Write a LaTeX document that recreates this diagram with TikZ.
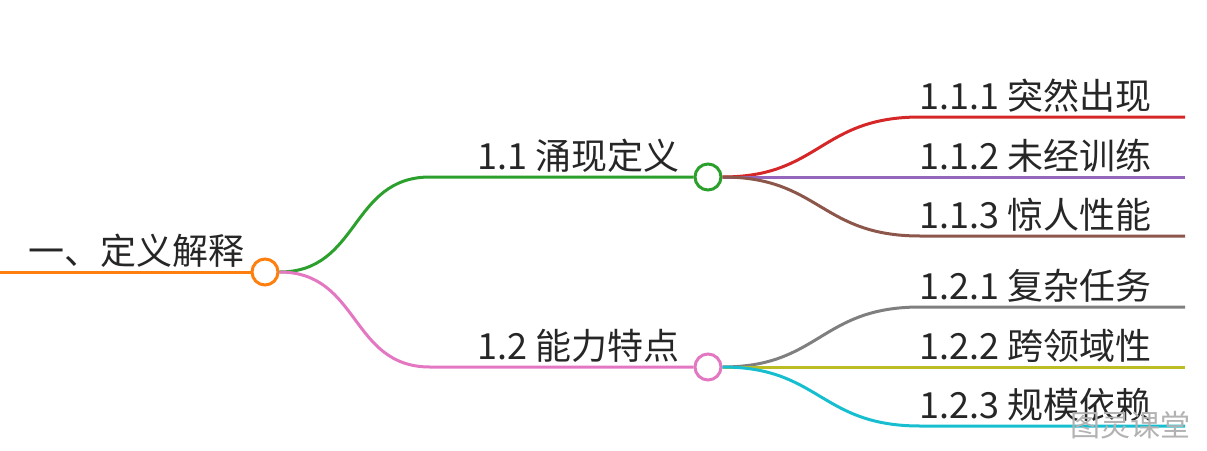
\documentclass[tikz,border=0pt]{standalone}
\usepackage{fontspec}
\setmainfont{Noto Sans CJK SC}
\begin{document}
\begin{tikzpicture}[x=1pt,y=-1pt,
  lbl/.style={font=\fontsize{36}{36}\selectfont,text=black!85,inner sep=0pt,anchor=base west},
  br/.style={line width=3pt},
  dot/.style={circle,draw,line width=3pt,fill=white,minimum size=26pt,inner sep=0pt}]
\useasboundingbox (0,0) rectangle (1207,450);
\definecolor{cor}{HTML}{FF7F0E}\definecolor{cgr}{HTML}{2CA02C}\definecolor{cpk}{HTML}{E377C2}
\definecolor{cre}{HTML}{D62728}\definecolor{cpu}{HTML}{9467BD}\definecolor{cbr}{HTML}{8C564B}
\definecolor{cgy}{HTML}{7F7F7F}\definecolor{col}{HTML}{BCBD22}\definecolor{ccy}{HTML}{17BECF}
\coordinate (s) at (0,272);
\coordinate (a1) at (1185,117);\coordinate (a2) at (1185,177);\coordinate (a3) at (1185,236);
\coordinate (b1) at (1185,307);\coordinate (b2) at (1185,367);\coordinate (b3) at (1185,426);
\node[dot,draw=cor] (r) at (265,272) {};
\node[dot,draw=cgr] (a) at (708,177) {};
\node[dot,draw=cpk] (b) at (708,367) {};
\draw[br,cor] (s) -- (r.west);
\draw[br,cgr] (r.east) .. controls (360,272) and (350,177) .. (430,177) -- (a.west);
\draw[br,cpk] (r.east) .. controls (360,272) and (350,367) .. (430,367) -- (b.west);
\draw[br,cre] (a.east) .. controls (820,177) and (820,117) .. (920,117) -- (a1);
\draw[br,cpu] (a.east) -- (a2);
\draw[br,cbr] (a.east) .. controls (820,177) and (820,236) .. (920,236) -- (a3);
\draw[br,cgy] (b.east) .. controls (820,367) and (820,307) .. (920,307) -- (b1);
\draw[br,col] (b.east) -- (b2);
\draw[br,ccy] (b.east) .. controls (820,367) and (820,426) .. (920,426) -- (b3);
\node[lbl,anchor=base east] (tr) at (245,264) {一、定义解释};
\node[lbl] (ta) at (477,169) {1.1 涌现定义};
\node[lbl] (tb) at (477,359) {1.2 能力特点};
\node[lbl] (t1) at (919,109) {1.1.1 突然出现};
\node[lbl] (t2) at (919,169) {1.1.2 未经训练};
\node[lbl] (t3) at (919,228) {1.1.3 惊人性能};
\node[lbl] (t4) at (919,299) {1.2.1 复杂任务};
\node[lbl] (t5) at (919,359) {1.2.2 跨领域性};
\node[lbl] (t6) at (919,418) {1.2.3 规模依赖};
\node[font=\fontsize{30}{30}\selectfont,text=black!30,inner sep=0pt] (w) at (1130,425) {图灵课堂};
\end{tikzpicture}
\end{document}
